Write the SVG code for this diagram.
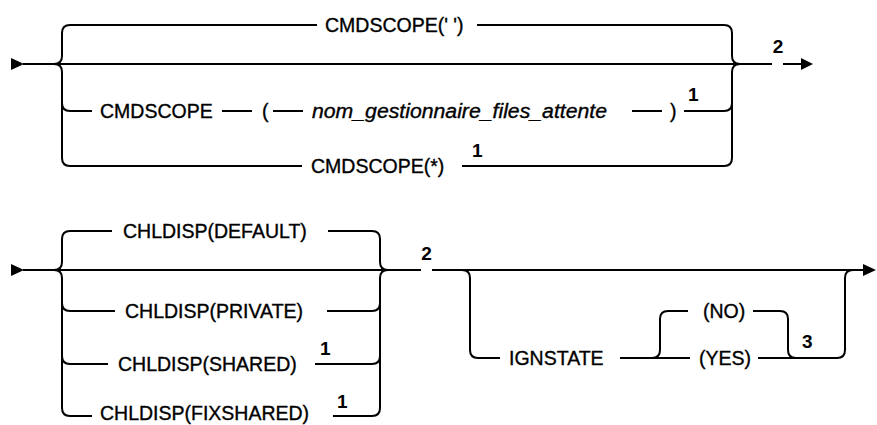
<svg xmlns="http://www.w3.org/2000/svg" width="877" height="425" viewBox="0 0 877 425">
<style>
.ln{fill:none;stroke:#000;stroke-width:2}
.ah{fill:#000}
text{font-family:"Liberation Sans",Arial,sans-serif;font-size:19.5px;fill:#000;stroke:#000;stroke-width:0.35}
.it{font-style:italic}
.nt{font-size:19px;font-weight:bold;stroke-width:0}
</style>
<rect width="877" height="425" fill="#fff"/>
<g id="connectors">
<polygon class="ah" points="11,58 24,64 11,70"/>
<path class="ln" d="M23 64 H772 M783 64 H802"/>
<polygon class="ah" points="801,58 813,64 801,70"/>
<path class="ln" d="M54 64 Q62 64 62 56 V33 Q62 25 70 25 H317 M477 25 H724 Q732 25 732 33 V56 Q732 64 740 64"/>
<path class="ln" d="M54 64 Q62 64 62 72 V158 Q62 166 70 166 H302 M462 166 H724 Q732 166 732 158 V72 Q732 64 740 64"/>
<path class="ln" d="M62 103 Q62 111 70 111 H92 M222 111 H252 M273 111 H303 M632 111 H662 M684 111 H724 Q732 111 732 103"/>
<polygon class="ah" points="11,264 24,270 11,276"/>
<path class="ln" d="M23 270 H421 M432 270 H864"/>
<polygon class="ah" points="863,264 876,270 863,276"/>
<path class="ln" d="M54 270 Q62 270 62 262 V239 Q62 231 70 231 H112 M328 231 H372 Q380 231 380 239 V262 Q380 270 388 270"/>
<path class="ln" d="M54 270 Q62 270 62 278 V408 Q62 416 70 416 H92 M333 416 H372 Q380 416 380 408 V278 Q380 270 388 270"/>
<path class="ln" d="M62 303 Q62 311 70 311 H115 M327 311 H372 Q380 311 380 303"/>
<path class="ln" d="M62 356 Q62 364 70 364 H108 M315 364 H372 Q380 364 380 356"/>
<path class="ln" d="M462 270 Q470 270 470 278 V350 Q470 358 478 358 H500 M620 358 H690 M758 358 H837 Q845 358 845 350 V278 Q845 270 853 270"/>
<path class="ln" d="M652 358 Q660 358 660 350 V319 Q660 311 668 311 H688 M753 311 H780 Q788 311 788 319 V350 Q788 358 796 358"/>
</g>
<g id="n-cmdscope-blank"><text x="325" y="32">CMDSCOPE(' ')</text></g>
<g id="n-cmdscope"><text x="100" y="118">CMDSCOPE</text></g>
<g id="n-lparen"><text x="262" y="118">(</text></g>
<g id="n-qmgr"><text class="it" x="312" y="118" textLength="295" lengthAdjust="spacingAndGlyphs">nom_gestionnaire_files_attente</text></g>
<g id="n-rparen"><text x="670" y="118">)</text></g>
<g id="n-note1a"><text class="nt" x="688" y="101">1</text></g>
<g id="n-cmdscope-star"><text x="311" y="173">CMDSCOPE(*)</text></g>
<g id="n-note1b"><text class="nt" x="472" y="157">1</text></g>
<g id="n-note2a"><text class="nt" x="778" y="53" text-anchor="middle">2</text></g>
<g id="n-default"><text x="123" y="238">CHLDISP(DEFAULT)</text></g>
<g id="n-private"><text x="125" y="318">CHLDISP(PRIVATE)</text></g>
<g id="n-shared"><text x="118" y="371">CHLDISP(SHARED)</text></g>
<g id="n-note1c"><text class="nt" x="320" y="355">1</text></g>
<g id="n-fixshared"><text x="100" y="420">CHLDISP(FIXSHARED)</text></g>
<g id="n-note1d"><text class="nt" x="337" y="408">1</text></g>
<g id="n-note2b"><text class="nt" x="426.5" y="260" text-anchor="middle">2</text></g>
<g id="n-ignstate"><text x="509" y="365">IGNSTATE</text></g>
<g id="n-no"><text x="703" y="318">(NO)</text></g>
<g id="n-yes"><text x="699" y="365">(YES)</text></g>
<g id="n-note3"><text class="nt" x="802" y="348">3</text></g>
</svg>
